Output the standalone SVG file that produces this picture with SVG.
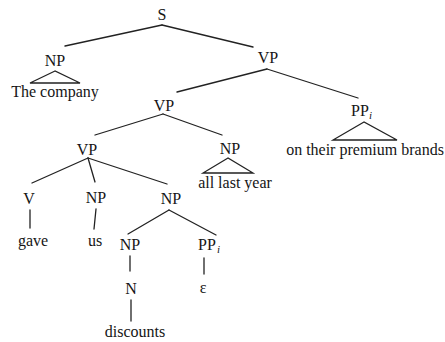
<svg xmlns="http://www.w3.org/2000/svg" width="445" height="342" viewBox="0 0 445 342">
<style>
text{font-family:"Liberation Serif","Times New Roman",serif;font-size:16px;fill:#151515;text-anchor:middle}
.sub{font-size:11px;font-style:italic;text-anchor:start}
line,polygon{stroke:#222;stroke-width:1.3;fill:none;stroke-linecap:round}
</style>
<rect width="445" height="342" fill="#fff"/>
<g id="connectors">
<line x1="162" y1="25" x2="65" y2="46"/>
<line x1="162" y1="25" x2="253" y2="47"/>
<line x1="267" y1="69" x2="177" y2="92"/>
<line x1="267" y1="69" x2="358" y2="98"/>
<line x1="163" y1="114" x2="95" y2="135"/>
<line x1="163" y1="114" x2="222" y2="135"/>
<line x1="88" y1="158" x2="32" y2="183"/>
<line x1="88" y1="158" x2="95" y2="182"/>
<line x1="88" y1="158" x2="167" y2="184"/>
<line x1="30" y1="210" x2="30" y2="228"/>
<line x1="96" y1="209" x2="94" y2="229"/>
<line x1="169" y1="210" x2="128" y2="234"/>
<line x1="169" y1="210" x2="216" y2="235"/>
<line x1="130" y1="256" x2="130" y2="271"/>
<line x1="131" y1="300" x2="131" y2="321"/>
<line x1="204" y1="258" x2="204" y2="274"/>
</g>
<g id="S"><text x="162" y="20">S</text></g>
<g id="NP1"><text x="55" y="66">NP</text><polygon points="55,71 30,83 80,83"/><text x="55" y="97">The company</text></g>
<g id="VP1"><text x="268" y="63">VP</text></g>
<g id="PPi1"><text x="360" y="116">PP</text><text class="sub" x="369" y="119">i</text><polygon points="364,122 333,140 397,140"/><text x="365" y="155">on their premium brands</text></g>
<g id="VP2"><text x="164" y="111">VP</text></g>
<g id="NP2"><text x="230" y="154">NP</text><polygon points="228,158 203,173 253,173"/><text x="235" y="188">all last year</text></g>
<g id="VP3"><text x="87" y="155">VP</text></g>
<g id="V"><text x="29" y="204">V</text><text x="33" y="246">gave</text></g>
<g id="NP3"><text x="96" y="203">NP</text><text x="95" y="246">us</text></g>
<g id="NP4"><text x="171" y="204">NP</text></g>
<g id="NP5"><text x="130" y="250">NP</text></g>
<g id="N"><text x="131" y="294">N</text><text x="135" y="337">discounts</text></g>
<g id="PPi2"><text x="207" y="250">PP</text><text class="sub" x="217" y="253">i</text><text x="203" y="293">ε</text></g>
</svg>
